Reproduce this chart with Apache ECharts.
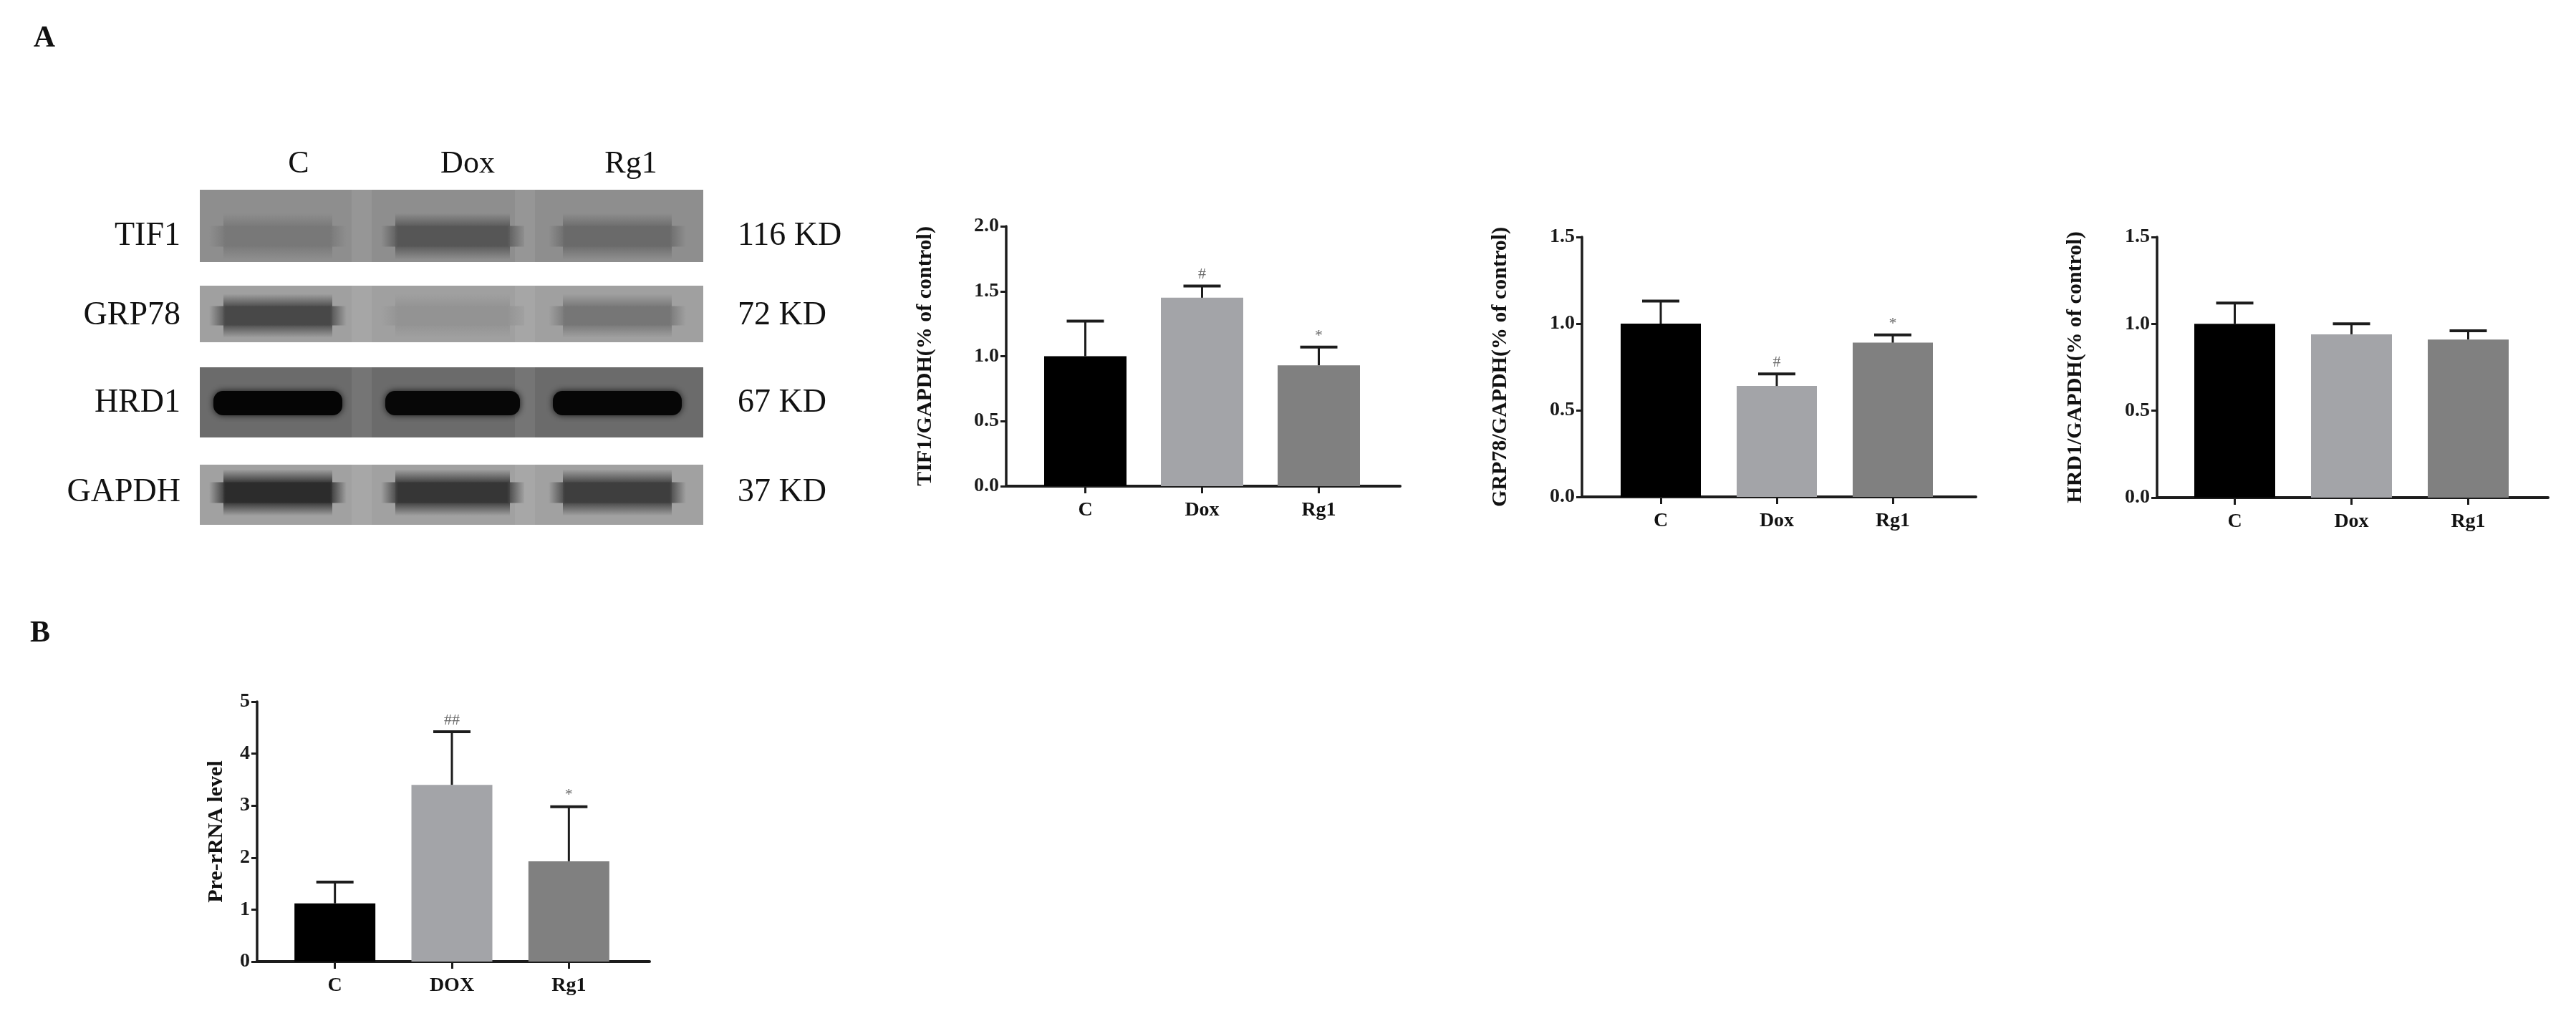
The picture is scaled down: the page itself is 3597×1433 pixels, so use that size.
<!DOCTYPE html>
<html>
<head>
<meta charset="utf-8" />
<title>TIF1 / GRP78 / HRD1 and pre-rRNA</title>
<style type="text/css">
  html, body { margin: 0; padding: 0; background: #ffffff; }
  #main { width: 3597px; height: 1433px; }
</style>
<script type="text/javascript" src="https://cdn.jsdelivr.net/npm/echarts@6/dist/echarts.min.js"></script>
</head>
<body>
<div id="main"></div>
<script type="text/javascript">
// ---- data ----
var groups = ['C', 'Dox', 'Rg1'];
var groupsB = ['C', 'DOX', 'Rg1'];
var barColors = ['#000000', '#a3a4a8', '#808080'];

var tif1Mean = [1.00, 1.45, 0.93];
var tif1Upper = [1.27, 1.54, 1.07];
var tif1Marks = ['', '#', '*'];

var grp78Mean = [1.00, 0.64, 0.89];
var grp78Upper = [1.13, 0.71, 0.935];
var grp78Marks = ['', '#', '*'];

var hrd1Mean = [1.00, 0.94, 0.91];
var hrd1Upper = [1.12, 1.00, 0.96];
var hrd1Marks = ['', '', ''];

var rrnaMean = [1.12, 3.40, 1.93];
var rrnaUpper = [1.53, 4.42, 2.98];
var rrnaMarks = ['', '##', '*'];

// western blot strips
var blotLanes = ['C', 'Dox', 'Rg1'];
var blotProteins = ['TIF1', 'GRP78', 'HRD1', 'GAPDH'];
var blotWeights = ['116 KD', '72 KD', '67 KD', '37 KD'];
var blotBackground = ['#8e8e8e', '#a0a0a0', '#6b6b6b', '#a1a1a1'];
var blotBands = [
  ['#787878', '#565656', '#6a6a6a'],
  ['#484848', '#939393', '#767676'],
  ['#050505', '#070707', '#060606'],
  ['#2c2c2c', '#363636', '#3e3e3e']
];

var FONT = '"Liberation Serif", "DejaVu Serif", serif';
var INK = '#1c1c1c';

var dom = document.getElementById('main');
var myChart = echarts.init(dom);

// ---- blot drawn as graphic elements ----
var blotLeft = 279, blotRight = 982;
var rowBox = [[265, 366], [399, 478], [513, 611], [649, 733]];
var bandBox = [[312, 348], [424, 458], [546, 580], [670, 706]];
var laneBox = [[298, 478], [538, 726], [772, 952]];
var laneLabelX = [417, 653, 881];
var laneGapX = [505, 733];

function vgrad(edge, core) {
  return { type: 'linear', x: 0, y: 0, x2: 0, y2: 1, colorStops: [
    { offset: 0, color: edge }, { offset: 0.32, color: core },
    { offset: 0.68, color: core }, { offset: 1, color: edge } ] };
}
function hgrad(edge, core) {
  return { type: 'linear', x: 0, y: 0, x2: 1, y2: 0, colorStops: [
    { offset: 0, color: edge }, { offset: 0.12, color: core },
    { offset: 0.88, color: core }, { offset: 1, color: edge } ] };
}

var graphics = [];
graphics.push({ type: 'text', style: { text: 'A', x: 62, y: 54, align: 'center', verticalAlign: 'middle',
  fontFamily: FONT, fontWeight: 'bold', fontSize: 42, fill: '#111' } });
graphics.push({ type: 'text', style: { text: 'B', x: 56, y: 885, align: 'center', verticalAlign: 'middle',
  fontFamily: FONT, fontWeight: 'bold', fontSize: 42, fill: '#111' } });

blotLanes.forEach(function (name, i) {
  graphics.push({ type: 'text', style: { text: name, x: laneLabelX[i], y: 229, align: 'center',
    verticalAlign: 'middle', fontFamily: FONT, fontSize: 44, fill: '#111' } });
});

blotProteins.forEach(function (name, r) {
  var top = rowBox[r][0], h = rowBox[r][1] - rowBox[r][0];
  var bTop = bandBox[r][0], bH = bandBox[r][1] - bandBox[r][0];
  var cy = (bandBox[r][0] + bandBox[r][1]) / 2;
  var bg = blotBackground[r];
  graphics.push({ type: 'rect', shape: { x: blotLeft, y: top, width: blotRight - blotLeft, height: h },
    style: { fill: bg }, z: 1 });
  laneGapX.forEach(function (gx) {
    graphics.push({ type: 'rect', shape: { x: gx - 14, y: top, width: 28, height: h },
      style: { fill: 'rgba(255,255,255,0.07)' }, z: 2 });
  });
  blotBands[r].forEach(function (col, l) {
    var w = laneBox[l][1] - laneBox[l][0];
    if (r === 2) {
      graphics.push({ type: 'rect',
        shape: { x: laneBox[l][0], y: bTop, width: w, height: bH, r: bH / 2.5 },
        style: { fill: col, shadowBlur: 10, shadowColor: 'rgba(0,0,0,0.8)' }, z: 3 });
    } else {
      var pad = bH * 0.4;
      // soft band: vertical fade body plus faded ends
      graphics.push({ type: 'rect',
        shape: { x: laneBox[l][0] + 14, y: bTop - pad, width: w - 28, height: bH + 2 * pad },
        style: { fill: vgrad(bg, col) }, z: 3 });
      graphics.push({ type: 'rect',
        shape: { x: laneBox[l][0] - 6, y: bTop + bH * 0.1, width: w + 12, height: bH * 0.8 },
        style: { fill: hgrad(bg, col), opacity: 0.9 }, z: 3 });
    }
  });
  graphics.push({ type: 'text', style: { text: name, x: 252, y: cy, align: 'right', verticalAlign: 'middle',
    fontFamily: FONT, fontSize: 46, fill: '#111' } });
  graphics.push({ type: 'text', style: { text: blotWeights[r], x: 1030, y: cy, align: 'left',
    verticalAlign: 'middle', fontFamily: FONT, fontSize: 46, fill: '#111' } });
});

// ---- bar panels ----
function errorRenderer(marks) {
  return function (params, api) {
    var x = api.value(0);
    var base = api.coord([x, api.value(1)]);
    var top = api.coord([x, api.value(2)]);
    var half = 26;
    var children = [
      { type: 'line', shape: { x1: base[0], y1: base[1], x2: top[0], y2: top[1] },
        style: { stroke: INK, lineWidth: 3 } },
      { type: 'line', shape: { x1: top[0] - half, y1: top[1], x2: top[0] + half, y2: top[1] },
        style: { stroke: INK, lineWidth: 4 } }
    ];
    var m = marks[params.dataIndex];
    if (m) {
      children.push({ type: 'text', style: { text: m, x: top[0], y: top[1] - 5, align: 'center',
        verticalAlign: 'bottom', fontFamily: FONT, fontSize: 22, fill: '#6a6a6a' } });
    }
    return { type: 'group', children: children };
  };
}

var panels = [
  { cats: groups, mean: tif1Mean, upper: tif1Upper, marks: tif1Marks, max: 2.0, interval: 0.5, digits: 1,
    name: 'TIF1/GAPDH(% of control)', frame: [1405, 316, 550, 363], bars: [1434, 489], barWidth: 115, gap: 98 },
  { cats: groups, mean: grp78Mean, upper: grp78Upper, marks: grp78Marks, max: 1.5, interval: 0.5, digits: 1,
    name: 'GRP78/GAPDH(% of control)', frame: [2209, 331, 550, 363], bars: [2238, 486], barWidth: 112, gap: 99 },
  { cats: groups, mean: hrd1Mean, upper: hrd1Upper, marks: hrd1Marks, max: 1.5, interval: 0.5, digits: 1,
    name: 'HRD1/GAPDH(% of control)', frame: [3012, 331, 546, 364], bars: [3039, 489], barWidth: 113, gap: 99 },
  { cats: groupsB, mean: rrnaMean, upper: rrnaUpper, marks: rrnaMarks, max: 5, interval: 1, digits: 0,
    name: 'Pre-rRNA level', frame: [359, 980, 548, 363], bars: [386, 490], barWidth: 113, gap: 42 }
];

var grids = [], xAxes = [], yAxes = [], series = [];
panels.forEach(function (p, i) {
  var f = i * 2, b = i * 2 + 1;
  grids.push({ left: p.frame[0], top: p.frame[1], width: p.frame[2], height: p.frame[3] });
  grids.push({ left: p.bars[0], top: p.frame[1], width: p.bars[1], height: p.frame[3] });

  xAxes.push({ gridIndex: f, type: 'value', min: 0, max: 1,
    axisLine: { show: true, lineStyle: { color: INK, width: 4 } },
    axisTick: { show: false }, axisLabel: { show: false }, splitLine: { show: false } });
  xAxes.push({ gridIndex: b, type: 'category', data: p.cats,
    axisLine: { show: false },
    axisTick: { show: true, alignWithLabel: true, length: 10, lineStyle: { color: INK, width: 3 } },
    axisLabel: { margin: 20, fontFamily: FONT, fontWeight: 'bold', fontSize: 28, color: '#111' } });

  yAxes.push({ gridIndex: f, type: 'value', min: 0, max: p.max, interval: p.interval,
    axisLine: { show: true, lineStyle: { color: INK, width: 3.5 } },
    axisTick: { show: true, length: 8, lineStyle: { color: INK, width: 3 } },
    axisLabel: { margin: 10, fontFamily: FONT, fontWeight: 'bold', fontSize: 28, color: '#1a1a1a',
      formatter: function (v) { return v.toFixed(p.digits); } },
    splitLine: { show: false },
    name: p.name, nameLocation: 'middle', nameGap: p.gap,
    nameTextStyle: { fontFamily: FONT, fontWeight: 'bold', fontSize: 30, color: '#111' } });
  yAxes.push({ gridIndex: b, type: 'value', min: 0, max: p.max, show: false });

  series.push({ type: 'bar', xAxisIndex: b, yAxisIndex: b, barWidth: p.barWidth, z: 2,
    data: p.mean.map(function (v, j) { return { value: v, itemStyle: { color: barColors[j] } }; }) });
  series.push({ type: 'custom', xAxisIndex: b, yAxisIndex: b, z: 3,
    renderItem: errorRenderer(p.marks),
    data: p.mean.map(function (v, j) { return [j, v, p.upper[j]]; }) });
});

var option = {
  animation: false,
  backgroundColor: '#ffffff',
  grid: grids,
  xAxis: xAxes,
  yAxis: yAxes,
  series: series,
  graphic: { elements: graphics }
};

if (option && typeof option === 'object') {
  myChart.setOption(option);
}
</script>
</body>
</html>
